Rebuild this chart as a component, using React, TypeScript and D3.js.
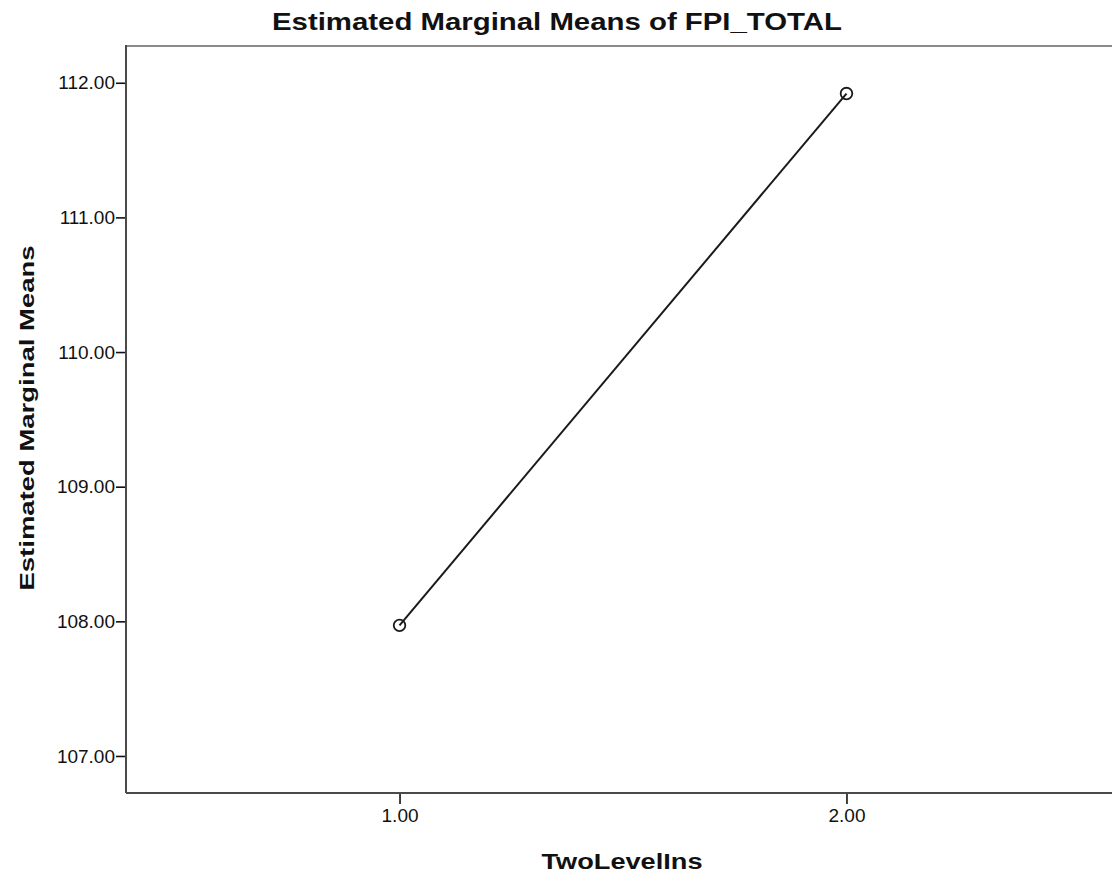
import React, { useEffect, useRef } from "react";
import * as d3 from "d3";

const levels = [1, 2];
const levelLabels = ["1.00", "2.00"];
const means = [107.97, 111.92];
const yTickValues = [107, 108, 109, 110, 111, 112];
const titleText = "Estimated Marginal Means of FPI_TOTAL";
const xTitle = "TwoLevelIns";
const yTitle = "Estimated Marginal Means";

const W = 1112;
const H = 875;

export default function App() {
  const ref = useRef<SVGSVGElement | null>(null);

  useEffect(() => {
    document.body.style.margin = "0";
    const svg = d3.select(ref.current);
    svg.selectAll("*").remove();

    const left = 126, right = 1120, top = 46, bottom = 793;
    const x = d3.scaleLinear().domain([0.388, 2.612]).range([left, right]);
    const y = d3.scaleLinear().domain([106.725, 112.273]).range([bottom, top]);
    const font = "'Liberation Sans', Arial, sans-serif";

    svg.append("rect").attr("width", W).attr("height", H).attr("fill", "#fff");

    // frame
    svg.append("line").attr("x1", left).attr("x2", W).attr("y1", top).attr("y2", top)
      .attr("stroke", "#8a8a8a").attr("stroke-width", 2);
    svg.append("line").attr("x1", left).attr("x2", left).attr("y1", top - 1).attr("y2", bottom)
      .attr("stroke", "#4a4a4a").attr("stroke-width", 2);
    svg.append("line").attr("x1", left).attr("x2", W).attr("y1", bottom).attr("y2", bottom)
      .attr("stroke", "#4a4a4a").attr("stroke-width", 2);

    // y ticks
    const yAxis = d3.axisLeft(y).tickValues(yTickValues).tickFormat((d) => d3.format(".2f")(d as number))
      .tickSize(9).tickPadding(1);
    const gy = svg.append("g").attr("transform", `translate(${left - 1},0)`).call(yAxis);
    gy.select(".domain").remove();
    gy.selectAll(".tick line").attr("stroke", "#111").attr("stroke-width", 1.6);
    gy.selectAll(".tick text").attr("font-family", font).attr("font-size", 19).attr("fill", "#111");

    // x ticks
    const xAxis = d3.axisBottom(x).tickValues(levels).tickFormat((_, i) => levelLabels[i])
      .tickSize(10).tickPadding(5);
    const gx = svg.append("g").attr("transform", `translate(0,${bottom + 1})`).call(xAxis);
    gx.select(".domain").remove();
    gx.selectAll(".tick line").attr("stroke", "#111").attr("stroke-width", 1.6);
    gx.selectAll(".tick text").attr("font-family", font).attr("font-size", 19).attr("fill", "#111");

    // line
    const pts = levels.map((l, i) => [l, means[i]] as [number, number]);
    const line = d3.line<[number, number]>().x((d) => x(d[0])).y((d) => y(d[1]));
    svg.append("path").attr("d", line(pts)).attr("fill", "none").attr("stroke", "#1a1a1a").attr("stroke-width", 2);
    svg.selectAll("circle.pt").data(pts).enter().append("circle")
      .attr("cx", (d) => x(d[0])).attr("cy", (d) => y(d[1])).attr("r", 5.8)
      .attr("fill", "#fff").attr("fill-opacity", 0).attr("stroke", "#1a1a1a").attr("stroke-width", 1.8);

    // titles
    svg.append("text").attr("x", 557).attr("y", 30).attr("text-anchor", "middle")
      .attr("font-family", font).attr("font-weight", "bold").attr("font-size", 24).attr("fill", "#111")
      .attr("textLength", 570).attr("lengthAdjust", "spacingAndGlyphs").text(titleText);
    svg.append("text").attr("x", 622).attr("y", 869).attr("text-anchor", "middle")
      .attr("font-family", font).attr("font-weight", "bold").attr("font-size", 22).attr("fill", "#111")
      .attr("textLength", 161).attr("lengthAdjust", "spacingAndGlyphs").text(xTitle);
    svg.append("text").attr("transform", "translate(34,418) rotate(-90)").attr("text-anchor", "middle")
      .attr("font-family", font).attr("font-weight", "bold").attr("font-size", 21).attr("fill", "#111")
      .attr("textLength", 345).attr("lengthAdjust", "spacingAndGlyphs").text(yTitle);
  }, []);

  return (
    <svg ref={ref} width={W} height={H} style={{ display: "block", position: "absolute", left: 0, top: 0 }} />
  );
}
